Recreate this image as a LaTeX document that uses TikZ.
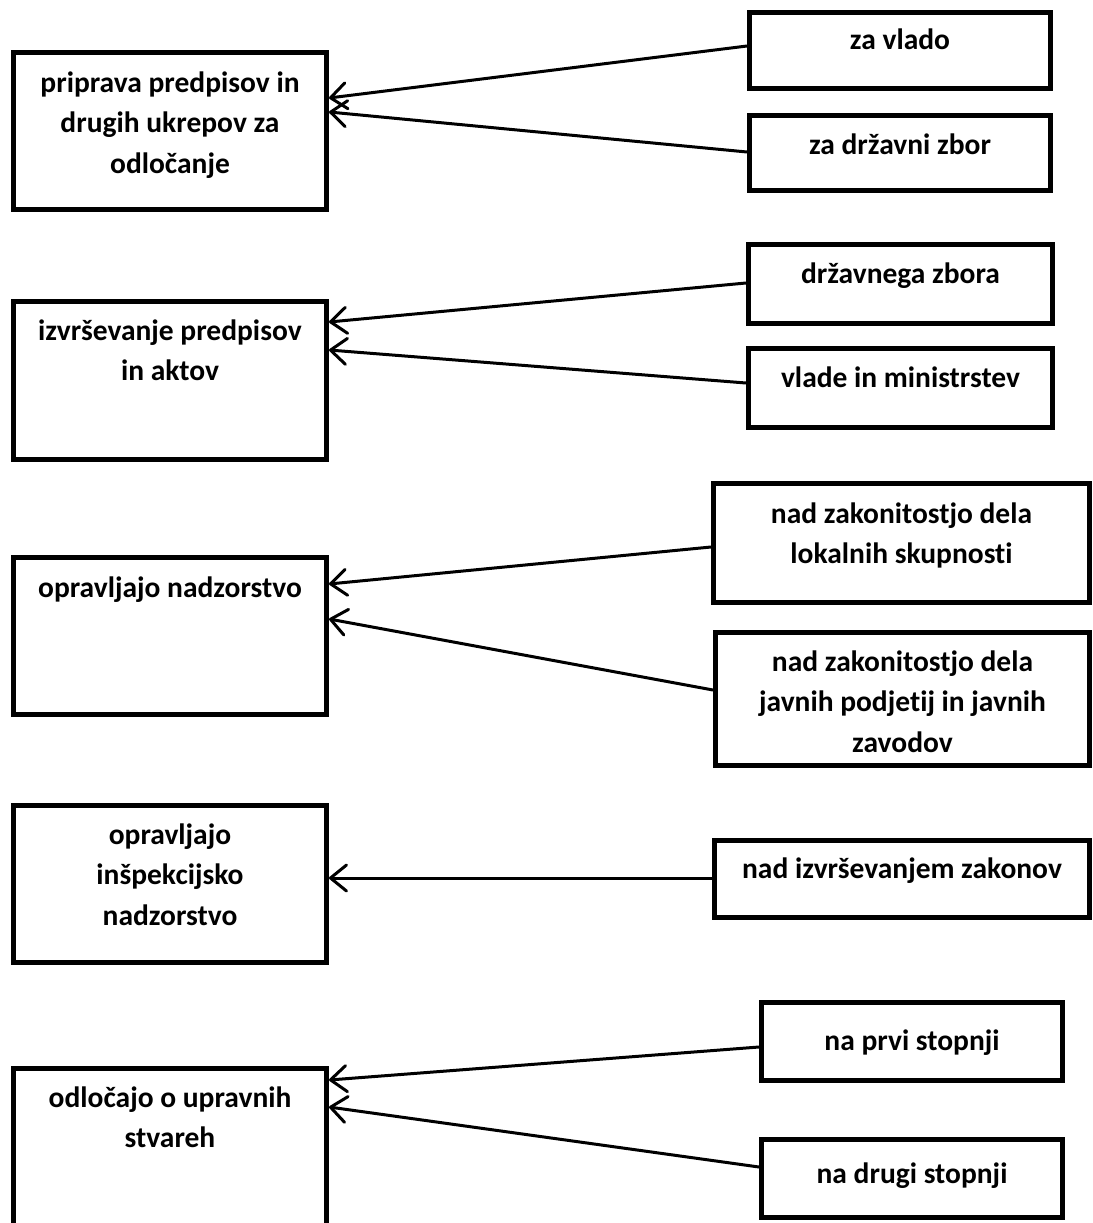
\documentclass[tikz,border=0pt]{standalone}
\usepackage{fontspec}
\setmainfont[Ligatures=NoCommon]{Carlito}
\usetikzlibrary{arrows.meta}

\tikzset{
  box/.style={draw=black, line width=5pt, fill=white, inner sep=0pt},
  % labels are placed by the baseline of their last line
  label/.style={font=\bfseries\fontsize{29.5}{40.5}\selectfont, align=center, inner sep=0pt, anchor=base},
  conn/.style={line width=3pt, line cap=round,
    -{Straight Barb[length=16pt,width=26pt,line cap=round,line join=round]}},
}

\begin{document}
\begin{tikzpicture}[x=1pt,y=-1pt]
\path[use as bounding box, clip] (0,0) rectangle (1092,1223);

% left column: activities
\node[box, minimum width=313pt, minimum height=157pt] (L1) at (170,131) {};
\node[box, minimum width=313pt, minimum height=158pt] (L2) at (170,380.5) {};
\node[box, minimum width=313pt, minimum height=157pt] (L3) at (170,636) {};
\node[box, minimum width=313pt, minimum height=157pt] (L4) at (170,884) {};
\node[box, minimum width=313pt, minimum height=157pt] (L5) at (170,1147) {};

\node[label] (t1) at (170,173) {priprava predpisov in\\drugih ukrepov za\\odločanje};
\node[label] (t2) at (170,380.5) {izvrševanje predpisov\\in aktov};
\node[label] (t3) at (170,597) {opravljajo nadzorstvo};
\node[label] (t4) at (170,925) {opravljajo\\inšpekcijsko\\nadzorstvo};
\node[label] (t5) at (170,1147.5) {odločajo o upravnih\\stvareh};

% right column: objects of the activities
\node[box, minimum width=301pt, minimum height=76pt] (R1) at (900,50.5) {};
\node[box, minimum width=301pt, minimum height=75pt] (R2) at (900,153) {};
\node[box, minimum width=304pt, minimum height=79pt] (R3) at (900.5,284) {};
\node[box, minimum width=304pt, minimum height=79pt] (R4) at (900.5,388) {};
\node[box, minimum width=376pt, minimum height=119pt] (R5) at (901.5,543) {};
\node[box, minimum width=374pt, minimum height=133pt] (R6) at (902.5,699) {};
\node[box, minimum width=375pt, minimum height=77pt] (R7) at (902,879) {};
\node[box, minimum width=301pt, minimum height=78pt] (R8) at (912,1041.5) {};
\node[box, minimum width=301pt, minimum height=78pt] (R9) at (912,1178.5) {};

\node[label] (u1) at (900,50) {za vlado};
\node[label] (u2) at (900,154) {za državni zbor};
\node[label] (u3) at (900.5,283) {državnega zbora};
\node[label] (u4) at (900.5,387) {vlade in ministrstev};
\node[label] (u5) at (901.5,563.5) {nad zakonitostjo dela\\lokalnih skupnosti};
\node[label] (u6) at (902.5,752) {nad zakonitostjo dela\\javnih podjetij in javnih\\zavodov};
\node[label] (u7) at (902,878) {nad izvrševanjem zakonov};
\node[label] (u8) at (912,1050) {na prvi stopnji};
\node[label] (u9) at (912,1183) {na drugi stopnji};

% connector end points on the box edges
\coordinate (s1) at (R1.west |- 0,46);   \coordinate (e1) at (L1.east |- 0,98);
\coordinate (s2) at (R2.west |- 0,152);  \coordinate (e2) at (L1.east |- 0,112);
\coordinate (s3) at (R3.west |- 0,283);  \coordinate (e3) at (L2.east |- 0,322);
\coordinate (s4) at (R4.west |- 0,383);  \coordinate (e4) at (L2.east |- 0,350);
\coordinate (s5) at (R5.west |- 0,547);  \coordinate (e5) at (L3.east |- 0,584);
\coordinate (s6) at (R6.west |- 0,690);  \coordinate (e6) at (L3.east |- 0,619);
\coordinate (s7) at (R7.west |- 0,878);  \coordinate (e7) at (L4.east |- 0,878);
\coordinate (s8) at (R8.west |- 0,1047); \coordinate (e8) at (L5.east |- 0,1080);
\coordinate (s9) at (R9.west |- 0,1167); \coordinate (e9) at (L5.east |- 0,1107);

\foreach \i in {1,...,9} {
  \draw[conn] (s\i) -- (e\i);
}
\end{tikzpicture}
\end{document}
